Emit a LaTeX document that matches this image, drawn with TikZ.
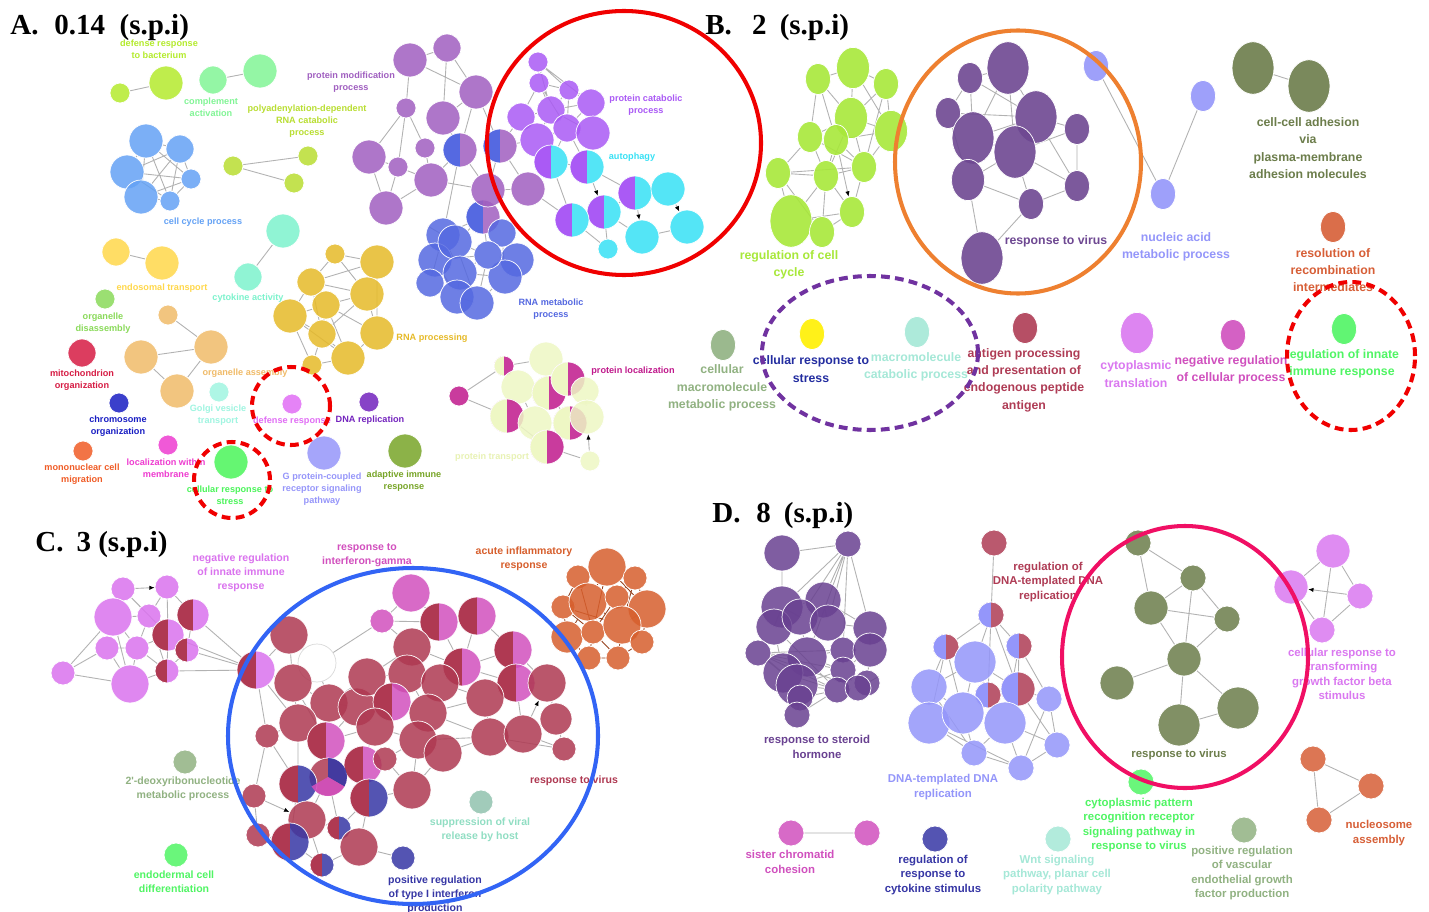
\documentclass[tikz,border=0pt]{standalone}
\usepackage{fontspec}
\setmainfont{Liberation Serif}
\newfontfamily\labfont{Liberation Sans}
\usepackage{xcolor}
\usetikzlibrary{shapes.geometric, arrows.meta, backgrounds}
% panel A
\definecolor{yellowGreen}{RGB}{180,235,45}
\definecolor{compGreen}{RGB}{130,245,150}
\definecolor{polyGreen}{RGB}{185,222,50}
\definecolor{ccBlue}{RGB}{100,162,245}
\definecolor{cytoTeal}{RGB}{125,243,205}
\definecolor{endoYellow}{RGB}{255,216,75}
\definecolor{orgGreen}{RGB}{138,218,90}
\definecolor{orgTan}{RGB}{240,187,105}
\definecolor{mitoRed}{RGB}{214,28,68}
\definecolor{chromBlue}{RGB}{25,30,195}
\definecolor{monoOrange}{RGB}{240,92,38}
\definecolor{locMagenta}{RGB}{238,60,208}
\definecolor{golgiTeal}{RGB}{160,245,225}
\definecolor{stressGreen}{RGB}{75,245,90}
\definecolor{defViolet}{RGB}{225,110,245}
\definecolor{dnaPurple}{RGB}{115,35,190}
\definecolor{gpcrBlue}{RGB}{150,150,250}
\definecolor{adaptGreen}{RGB}{120,165,40}
\definecolor{rnaGold}{RGB}{230,186,40}
\definecolor{rnaBlue}{RGB}{85,105,225}
\definecolor{pmPurple}{RGB}{160,95,192}
\definecolor{pcViolet}{RGB}{170,90,245}
\definecolor{autoCyan}{RGB}{55,225,245}
\definecolor{ptCream}{RGB}{238,247,196}
\definecolor{ptText}{RGB}{232,242,180}
\definecolor{plMagenta}{RGB}{192,25,140}
% panel B
\definecolor{cellGreen}{RGB}{168,232,58}
\definecolor{virPurple}{RGB}{110,72,146}
\definecolor{naBlue}{RGB}{148,150,250}
\definecolor{adhOlive}{RGB}{108,125,75}
\definecolor{resOrange}{RGB}{215,95,55}
\definecolor{cmSage}{RGB}{145,178,130}
\definecolor{csYellow}{RGB}{255,240,0}
\definecolor{csNavy}{RGB}{35,45,160}
\definecolor{mcTeal}{RGB}{165,232,215}
\definecolor{apRed}{RGB}{175,60,85}
\definecolor{ctViolet}{RGB}{218,120,240}
\definecolor{nrMagenta}{RGB}{208,80,190}
\definecolor{riGreen}{RGB}{80,245,100}
% panel C and D
\definecolor{nrViolet}{RGB}{218,115,238}
\definecolor{rvRed}{RGB}{175,57,82}
\definecolor{igMagenta}{RGB}{210,80,190}
\definecolor{tiBlue}{RGB}{55,55,165}
\definecolor{aiOrange}{RGB}{215,95,45}
\definecolor{svTeal}{RGB}{145,195,175}
\definecolor{svText}{RGB}{145,222,195}
\definecolor{shPurple}{RGB}{105,65,145}
% rings
\definecolor{ringRed}{RGB}{240,0,0}
\definecolor{ringOrange}{RGB}{238,128,48}
\definecolor{ringPurple}{RGB}{112,50,160}
\definecolor{ringBlue}{RGB}{50,100,245}
\definecolor{ringPink}{RGB}{240,15,100}

\begin{document}
\begin{tikzpicture}[
    x=0.02cm, y=-0.02cm,
    go/.style 2 args={
        circle,
        inner sep=0pt,
        minimum size=#2*0.04cm,
        fill=#1,
        fill opacity=0.85,
        draw=white,
        line width=0.4pt
    },
    gb/.style 2 args={
        ellipse,
        inner sep=0pt,
        minimum width=#2*0.04cm,
        minimum height=#2*0.05cm,
        fill=#1,
        fill opacity=0.9,
        draw=white,
        line width=0.4pt
    },
    half/.style={
        path picture={\fill[#1, fill opacity=1] (path picture bounding box.north west) rectangle (path picture bounding box.south);}
    },
    link/.style={draw=gray!60, line width=0.5pt},
    tip/.style={draw=gray!60, line width=0.5pt, -{Latex[length=3pt, width=2.5pt, color=black]}},
    title/.style={font=\bfseries\fontsize{16.5}{19}\selectfont, anchor=base west, inner sep=0pt},
    labA/.style={font=\labfont\bfseries\fontsize{5.2}{6.8}\selectfont, align=center, inner sep=0pt, text=#1},
    labB/.style={font=\labfont\bfseries\fontsize{7}{9.9}\selectfont, align=center, inner sep=0pt, text=#1},
    labC/.style={font=\labfont\bfseries\fontsize{6}{7.9}\selectfont, align=center, inner sep=0pt, text=#1},
    labD/.style={font=\labfont\bfseries\fontsize{6.5}{8.3}\selectfont, align=center, inner sep=0pt, text=#1},
    sz/.style 2 args={minimum width=#1*0.02cm, minimum height=#2*0.02cm},
    ring/.style={ellipse, inner sep=0pt, draw=#1, line width=2.3pt},
    dring/.style={ellipse, inner sep=0pt, draw=#1, line width=2.3pt, dash pattern=on 5pt off 3pt}
]

\useasboundingbox (0,0) rectangle (1429,912);
\begin{scope}[on background layer]
\fill[white] (0,0) rectangle (1429,912);
\end{scope}

% ================= Panel A =================
\node[title] (tA) at (10,35) {A.\hspace{0.55em}0.14\hspace{0.5em}(s.p.i)};

\node[go={yellowGreen}{10}] (dr1) at (120,93) {};
\node[go={yellowGreen}{17}] (dr2) at (166,83) {};
\node[go={compGreen}{14}] (ca1) at (213,80) {};
\node[go={compGreen}{17}] (ca2) at (260,71) {};
\node[go={polyGreen}{10}] (pa1) at (233,166) {};
\node[go={polyGreen}{10}] (pa2) at (308,156) {};
\node[go={polyGreen}{10}] (pa3) at (294,183) {};

\node[go={ccBlue}{17}] (cc1) at (146,141) {};
\node[go={ccBlue}{14}] (cc2) at (180,149) {};
\node[go={ccBlue}{17}] (cc3) at (127,172) {};
\node[go={ccBlue}{10}] (cc4) at (191,179) {};
\node[go={ccBlue}{17}] (cc5) at (141,197) {};
\node[go={ccBlue}{10}] (cc6) at (170,201) {};

\node[go={cytoTeal}{17}] (ct1) at (283,231) {};
\node[go={cytoTeal}{14}] (ct2) at (248,277) {};
\node[go={endoYellow}{14}] (et1) at (116,252) {};
\node[go={endoYellow}{17}] (et2) at (162,263) {};
\node[go={orgGreen}{10}] (od1) at (105,299) {};
\node[go={orgTan}{10}] (oa1) at (168,315) {};
\node[go={orgTan}{17}] (oa2) at (211,347) {};
\node[go={orgTan}{17}] (oa3) at (141,357) {};
\node[go={orgTan}{17}] (oa4) at (177,391) {};
\node[go={mitoRed}{14}] (mo1) at (82,353) {};
\node[go={chromBlue}{10}] (ch1) at (119,403) {};
\node[go={monoOrange}{10}] (mm1) at (83,451) {};
\node[go={locMagenta}{10}] (lm1) at (168,445) {};
\node[go={golgiTeal}{10}] (gv1) at (219,392) {};
\node[go={stressGreen}{17}] (cs1) at (231,462) {};
\node[go={defViolet}{10}] (df1) at (292,404) {};
\node[go={dnaPurple}{10}] (dp1) at (369,402) {};
\node[go={gpcrBlue}{17}] (gp1) at (324,453) {};
\node[go={adaptGreen}{17}] (aim1) at (405,451) {};

% RNA processing
\node[go={rnaGold}{10}] (rp1) at (335,254) {};
\node[go={rnaGold}{17}] (rp2) at (377,262) {};
\node[go={rnaGold}{14}] (rp3) at (311,282) {};
\node[go={rnaGold}{17}] (rp4) at (367,294) {};
\node[go={rnaGold}{14}] (rp5) at (326,305) {};
\node[go={rnaGold}{17}] (rp6) at (290,316) {};
\node[go={rnaGold}{14}] (rp7) at (322,334) {};
\node[go={rnaGold}{17}] (rp8) at (377,333) {};
\node[go={rnaGold}{17}] (rp9) at (348,358) {};
\node[go={rnaGold}{10}] (rp10) at (312,365) {};

% RNA metabolic process
\node[go={rnaBlue}{17}] (rm1) at (443,235) {};
\node[go={pmPurple}{17}, half=rnaBlue] (rm2) at (483,217) {};
\node[go={rnaBlue}{14}] (rm3) at (502,233) {};
\node[go={rnaBlue}{17}] (rm4) at (435,260) {};
\node[go={rnaBlue}{17}] (rm5) at (455,242) {};
\node[go={rnaBlue}{17}] (rm6) at (517,260) {};
\node[go={rnaBlue}{17}] (rm7) at (460,273) {};
\node[go={rnaBlue}{14}] (rm8) at (430,283) {};
\node[go={rnaBlue}{17}] (rm9) at (505,277) {};
\node[go={rnaBlue}{17}] (rm10) at (457,297) {};
\node[go={rnaBlue}{17}] (rm11) at (477,303) {};
\node[go={rnaBlue}{14}] (rm12) at (488,255) {};

% protein modification process
\node[go={pmPurple}{17}] (pm1) at (410,60) {};
\node[go={pmPurple}{14}] (pm2) at (447,48) {};
\node[go={pmPurple}{10}] (pm3) at (406,108) {};
\node[go={pmPurple}{17}] (pm4) at (476,92) {};
\node[go={pmPurple}{17}] (pm5) at (443,118) {};
\node[go={pmPurple}{17}] (pm6) at (369,157) {};
\node[go={pmPurple}{10}] (pm7) at (425,148) {};
\node[go={pmPurple}{10}] (pm8) at (398,167) {};
\node[go={pmPurple}{17}] (pm9) at (431,180) {};
\node[go={pmPurple}{17}] (pm10) at (386,208) {};
\node[go={pmPurple}{17}, half=rnaBlue] (pm11) at (460,150) {};
\node[go={pmPurple}{17}, half=rnaBlue] (pm12) at (500,146) {};
\node[go={pmPurple}{17}] (pm13) at (488,190) {};
\node[go={pmPurple}{17}] (pm14) at (528,189) {};

% protein catabolic process / autophagy
\node[go={pcViolet}{10}] (pc1) at (538,62) {};
\node[go={pcViolet}{10}] (pc2) at (539,83) {};
\node[go={pcViolet}{10}] (pc3) at (569,90) {};
\node[go={pcViolet}{14}] (pc4) at (591,103) {};
\node[go={pcViolet}{14}] (pc5) at (521,117) {};
\node[go={pcViolet}{14}] (pc6) at (551,110) {};
\node[go={pcViolet}{14}] (pc7) at (567,128) {};
\node[go={pcViolet}{17}] (pc8) at (593,133) {};
\node[go={pcViolet}{17}] (pc9) at (537,140) {};
\node[go={autoCyan}{17}, half=pcViolet] (au1) at (551,162) {};
\node[go={autoCyan}{17}, half=pcViolet] (au2) at (587,167) {};
\node[go={autoCyan}{17}, half=pcViolet] (au3) at (635,193) {};
\node[go={autoCyan}{17}, half=pcViolet] (au4) at (604,212) {};
\node[go={autoCyan}{17}, half=pcViolet] (au5) at (572,220) {};
\node[go={autoCyan}{17}] (au6) at (668,189) {};
\node[go={autoCyan}{17}] (au7) at (642,237) {};
\node[go={autoCyan}{17}] (au8) at (687,227) {};
\node[go={autoCyan}{10}] (au9) at (608,249) {};

% protein localization / transport
\node[go={plMagenta}{10}, half=ptCream] (pl1) at (504,366) {};
\node[go={ptCream}{17}] (pl2) at (546,359) {};
\node[go={ptCream}{17}] (pl3) at (518,387) {};
\node[go={plMagenta}{17}, half=ptCream] (pl4) at (549,393) {};
\node[go={plMagenta}{17}, half=ptCream] (pl5) at (568,379) {};
\node[go={ptCream}{14}] (pl6) at (585,391) {};
\node[go={plMagenta}{17}, half=ptCream] (pl7) at (507,416) {};
\node[go={ptCream}{17}] (pl8) at (535,423) {};
\node[go={plMagenta}{17}, half=ptCream] (pl9) at (570,423) {};
\node[go={ptCream}{17}] (pl10) at (587,417) {};
\node[go={plMagenta}{17}, half=ptCream] (pl11) at (547,447) {};
\node[go={ptCream}{10}] (pl12) at (590,461) {};
\node[go={plMagenta}{10}] (pl13) at (459,396) {};

% Panel A edges
\begin{scope}[on background layer]
\draw[link] (dr1) -- (dr2) (ca1) -- (ca2) (pa1) -- (pa2) (pa1) -- (pa3)
    (ct1) -- (ct2) (et1) -- (et2)
    (oa1) -- (oa2) (oa2) -- (oa3) (oa3) -- (oa4) (oa2) -- (oa4);
\draw[link] (cc1) -- (cc2) (cc1) -- (cc3) (cc1) -- (cc4) (cc1) -- (cc6) (cc2) -- (cc3)
    (cc2) -- (cc4) (cc2) -- (cc5) (cc3) -- (cc4) (cc3) -- (cc6) (cc4) -- (cc6)
    (cc5) -- (cc6) (cc1) -- (cc5) (cc2) -- (cc6) (cc4) -- (cc5);
\draw[link] (rp1) -- (rp2) (rp1) -- (rp3) (rp1) -- (rp4) (rp2) -- (rp3) (rp2) -- (rp4)
    (rp3) -- (rp5) (rp3) -- (rp4) (rp3) -- (rp6) (rp4) -- (rp5) (rp4) -- (rp8)
    (rp5) -- (rp6) (rp5) -- (rp7) (rp5) -- (rp8) (rp6) -- (rp7) (rp6) -- (rp9)
    (rp7) -- (rp9) (rp7) -- (rp10) (rp8) -- (rp9) (rp6) -- (rp10) (rp4) -- (rp7)
    (rp2) -- (rp8) (rp5) -- (rp9) (rp3) -- (rp7) (rp10) -- (rp9);
\draw[link] (rm1) -- (rm2) (rm1) -- (rm4) (rm1) -- (rm5) (rm1) -- (rm7) (rm1) -- (rm8)
    (rm2) -- (rm3) (rm2) -- (rm5) (rm2) -- (rm12) (rm3) -- (rm6) (rm3) -- (rm12)
    (rm3) -- (rm9) (rm4) -- (rm5) (rm4) -- (rm7) (rm4) -- (rm8) (rm4) -- (rm10)
    (rm5) -- (rm7) (rm5) -- (rm12) (rm6) -- (rm9) (rm6) -- (rm12) (rm7) -- (rm10)
    (rm7) -- (rm11) (rm7) -- (rm12) (rm7) -- (rm9) (rm8) -- (rm10) (rm9) -- (rm11)
    (rm9) -- (rm12) (rm10) -- (rm11) (rm11) -- (rm12) (rm5) -- (rm11) (rm4) -- (rm12)
    (rm2) -- (pm13) (rm1) -- (pm11);
\draw[link] (pm1) -- (pm2) (pm1) -- (pm3) (pm2) -- (pm4) (pm1) -- (pm4) (pm3) -- (pm6)
    (pm3) -- (pm7) (pm3) -- (pm8) (pm6) -- (pm8) (pm8) -- (pm9) (pm7) -- (pm9)
    (pm6) -- (pm10) (pm8) -- (pm10) (pm10) -- (pm9) (pm5) -- (pm11) (pm4) -- (pm12)
    (pm4) -- (pm11) (pm9) -- (pm13) (pm13) -- (pm14) (pm11) -- (pm13) (pm12) -- (pm13)
    (pm12) -- (pm14) (pm5) -- (pm4) (pm9) -- (pm11) (pm2) -- (pm5) (pm12) -- (pc9)
    (pm14) -- (au5) (pm12) -- (pc5);
\draw[link] (pc1) -- (pc2) (pc1) -- (pc3) (pc1) -- (pc6) (pc1) -- (pc4) (pc2) -- (pc3)
    (pc2) -- (pc5) (pc2) -- (pc6) (pc2) -- (pc7) (pc3) -- (pc4) (pc3) -- (pc6)
    (pc3) -- (pc7) (pc4) -- (pc6) (pc4) -- (pc7) (pc4) -- (pc8) (pc5) -- (pc6)
    (pc5) -- (pc9) (pc6) -- (pc7) (pc6) -- (pc9) (pc7) -- (pc8) (pc7) -- (pc9)
    (pc6) -- (pc8) (pc9) -- (au1) (pc7) -- (au1) (pc8) -- (au2) (pc7) -- (au2)
    (au1) -- (au2) (au1) -- (au5) (au2) -- (au3) (au3) -- (au6) (au4) -- (au5)
    (au4) -- (au7) (au4) -- (au9) (au7) -- (au8) (au4) -- (au3) (au5) -- (au9);
\draw[tip] (au2) -- (au4);
\draw[tip] (au3) -- (au7);
\draw[tip] (au6) -- (au8);
\draw[link] (pl13) -- (pl1) (pl13) -- (pl7) (pl1) -- (pl2) (pl1) -- (pl3) (pl2) -- (pl4)
    (pl3) -- (pl4) (pl4) -- (pl5) (pl4) -- (pl6) (pl5) -- (pl6) (pl3) -- (pl7)
    (pl3) -- (pl8) (pl4) -- (pl8) (pl4) -- (pl9) (pl6) -- (pl10) (pl8) -- (pl11)
    (pl9) -- (pl10) (pl9) -- (pl11) (pl11) -- (pl12) (pl7) -- (pl11) (pl8) -- (pl9)
    (pl2) -- (pl5);
\draw[tip] (pl12) -- (pl10);
\end{scope}

% Panel A labels
\node[labA=yellowGreen] (lDr) at (159,49) {defense response\\to bacterium};
\node[labA=compGreen] (lCa) at (211,107) {complement\\activation};
\node[labA=polyGreen] (lPa) at (307,121) {polyadenylation-dependent\\RNA catabolic\\process};
\node[labA=pmPurple] (lPm) at (351,82) {protein modification\\process};
\node[labA=pcViolet] (lPc) at (646,105) {protein catabolic\\process};
\node[labA=autoCyan] (lAu) at (632,157) {autophagy};
\node[labA=ccBlue] (lCc) at (203,222) {cell cycle process};
\node[labA=endoYellow] (lEt) at (162,288) {endosomal transport};
\node[labA=cytoTeal] (lCt) at (248,298) {cytokine activity};
\node[labA=orgGreen] (lOd) at (103,323) {organelle\\disassembly};
\node[labA=rnaGold] (lRp) at (432,338) {RNA processing};
\node[labA=rnaBlue] (lRm) at (551,309) {RNA metabolic\\process};
\node[labA=orgTan] (lOa) at (245,373) {organelle assembly};
\node[labA=mitoRed] (lMo) at (82,380) {mitochondrion\\organization};
\node[labA=plMagenta] (lPl) at (633,371) {protein localization};
\node[labA=golgiTeal] (lGv) at (218,415) {Golgi vesicle\\transport};
\node[labA=defViolet] (lDf) at (292,421) {defense response};
\node[labA=dnaPurple] (lDp) at (370,420) {DNA replication};
\node[labA=chromBlue] (lCh) at (118,426) {chromosome\\organization};
\node[labA=locMagenta] (lLm) at (166,468) {localization within\\membrane};
\node[labA=monoOrange] (lMm) at (82,474) {mononuclear cell\\migration};
\node[labA=ptText] (lPt) at (492,457) {protein transport};
\node[labA=gpcrBlue] (lGp) at (322,489) {G protein-coupled\\receptor signaling\\pathway};
\node[labA=adaptGreen] (lAim) at (404,481) {adaptive immune\\response};
\node[labA=stressGreen] (lCs) at (230,495) {cellular response to\\stress};

% ================= Panel B =================
\node[title] (tB) at (705,35) {B.\hspace{0.7em}2\hspace{0.45em}(s.p.i)};

\node[gb={cellGreen}{12.5}] (gc1) at (818,79) {};
\node[gb={cellGreen}{16.5}] (gc2) at (853,68) {};
\node[gb={cellGreen}{12.5}] (gc3) at (886,84) {};
\node[gb={cellGreen}{16.5}] (gc4) at (851,118) {};
\node[gb={cellGreen}{16.5}] (gc5) at (891,131) {};
\node[gb={cellGreen}{12.5}] (gc6) at (810,137) {};
\node[gb={cellGreen}{12.5}] (gc7) at (836,140) {};
\node[gb={cellGreen}{12.5}] (gc8) at (778,173) {};
\node[gb={cellGreen}{12.5}] (gc9) at (826,176) {};
\node[gb={cellGreen}{12.5}] (gc10) at (864,167) {};
\node[gb={cellGreen}{12.5}] (gc11) at (852,212) {};
\node[gb={cellGreen}{21}] (gc12) at (791,221) {};
\node[gb={cellGreen}{12.5}] (gc13) at (822,232) {};

\node[gb={virPurple}{12.5}] (vp1) at (970,78) {};
\node[gb={virPurple}{21}] (vp2) at (1008,68) {};
\node[gb={virPurple}{12.5}] (vp3) at (948,113) {};
\node[gb={virPurple}{21}] (vp4) at (1036,117) {};
\node[gb={virPurple}{21}] (vp5) at (973,138) {};
\node[gb={virPurple}{21}] (vp6) at (1015,152) {};
\node[gb={virPurple}{16.5}] (vp7) at (968,180) {};
\node[gb={virPurple}{12.5}] (vp8) at (1031,204) {};
\node[gb={virPurple}{21}] (vp9) at (982,258) {};
\node[gb={virPurple}{12.5}] (vp10) at (1077,129) {};
\node[gb={virPurple}{12.5}] (vp11) at (1077,186) {};

\node[gb={naBlue}{12.5}] (na1) at (1096,66) {};
\node[gb={naBlue}{12.5}] (na2) at (1203,96) {};
\node[gb={naBlue}{12.5}] (na3) at (1163,194) {};
\node[gb={adhOlive}{21}] (cca1) at (1253,68) {};
\node[gb={adhOlive}{21}] (cca2) at (1309,86) {};
\node[gb={resOrange}{12.5}] (rr1) at (1333,227) {};

\node[gb={cmSage}{12.5}] (cm1) at (723,345) {};
\node[gb={csYellow}{12.5}] (cy1) at (812,334) {};
\node[gb={mcTeal}{12.5}] (mc1) at (917,332) {};
\node[gb={apRed}{12.5}] (ap1) at (1025,328) {};
\node[gb={ctViolet}{16.5}] (tr1) at (1137,333) {};
\node[gb={nrMagenta}{12.5}] (ng1) at (1233,335) {};
\node[gb={riGreen}{12.5}] (ri1) at (1344,329) {};

% Panel B edges
\begin{scope}[on background layer]
\draw[link] (gc1) -- (gc2) (gc1) -- (gc4) (gc1) -- (gc6) (gc1) -- (gc7) (gc2) -- (gc3)
    (gc2) -- (gc4) (gc2) -- (gc5) (gc3) -- (gc4) (gc3) -- (gc5) (gc3) -- (gc10)
    (gc4) -- (gc5) (gc4) -- (gc6) (gc4) -- (gc7) (gc4) -- (gc10) (gc4) -- (gc9)
    (gc5) -- (gc10) (gc5) -- (gc7) (gc6) -- (gc7) (gc6) -- (gc8) (gc6) -- (gc9)
    (gc7) -- (gc9) (gc7) -- (gc10) (gc8) -- (gc9) (gc8) -- (gc12) (gc8) -- (gc10)
    (gc9) -- (gc10) (gc9) -- (gc12) (gc9) -- (gc13) (gc9) -- (gc11) (gc10) -- (gc11)
    (gc11) -- (gc13) (gc12) -- (gc13) (gc11) -- (gc12) (gc8) -- (gc13) (gc6) -- (gc10);
\draw[tip] (gc7) -- (gc11);
\draw[link] (vp1) -- (vp2) (vp1) -- (vp3) (vp1) -- (vp5) (vp1) -- (vp4) (vp2) -- (vp4)
    (vp2) -- (vp5) (vp2) -- (vp6) (vp3) -- (vp5) (vp3) -- (vp4) (vp3) -- (vp7)
    (vp4) -- (vp6) (vp4) -- (vp10) (vp4) -- (vp5) (vp5) -- (vp6) (vp5) -- (vp7)
    (vp6) -- (vp7) (vp6) -- (vp8) (vp6) -- (vp11) (vp6) -- (vp10) (vp7) -- (vp8)
    (vp7) -- (vp9) (vp8) -- (vp9) (vp8) -- (vp11) (vp10) -- (vp11) (vp4) -- (vp11);
\draw[link] (na1) -- (na3) (na2) -- (na3) (cca1) -- (cca2);
\end{scope}

% Panel B labels
\node[labB=cellGreen] (lGc) at (789,265) {regulation of cell\\cycle};
\node[labB=virPurple] (lVp) at (1056,241) {response to virus};
\node[labB=naBlue] (lNa) at (1176,247) {nucleic acid\\metabolic process};
\node[labB=adhOlive] (lCca) at (1308,148) {cell-cell adhesion\\via\\plasma-membrane\\adhesion molecules};
\node[labB=resOrange] (lRr) at (1333,270) {resolution of\\recombination\\intermediates};
\node[labB=cmSage] (lCm) at (722,388) {cellular\\macromolecule\\metabolic process};
\node[labB=csNavy] (lCy) at (811,369) {cellular response to\\stress};
\node[labB=mcTeal] (lMc) at (916,367) {macromolecule\\catabolic process};
\node[labB=apRed] (lAp) at (1024,380) {antigen processing\\and presentation of\\endogenous peptide\\antigen};
\node[labB=ctViolet] (lTr) at (1136,374) {cytoplasmic\\translation};
\node[labB=nrMagenta] (lNg) at (1231,370) {negative regulation\\of cellular process};
\node[labB=riGreen] (lRi) at (1342,364) {regulation of innate\\immune response};

% ================= Panel C =================
\node[title] (tC) at (35,551) {C.\hspace{0.45em}3 (s.p.i)};

\node[go={nrViolet}{12}] (nv1) at (123,589) {};
\node[go={nrViolet}{12}] (nv2) at (167,587) {};
\node[go={nrViolet}{19}] (nv3) at (113,617) {};
\node[go={nrViolet}{12}] (nv4) at (149,616) {};
\node[go={nrViolet}{16}, half=rvRed] (nv5) at (193,615) {};
\node[go={nrViolet}{16}, half=rvRed] (nv6) at (168,635) {};
\node[go={nrViolet}{12}] (nv7) at (107,648) {};
\node[go={nrViolet}{12}] (nv8) at (137,648) {};
\node[go={nrViolet}{12}, half=rvRed] (nv9) at (187,650) {};
\node[go={nrViolet}{12}] (nv10) at (63,673) {};
\node[go={nrViolet}{19}] (nv11) at (130,684) {};
\node[go={nrViolet}{12}, half=rvRed] (nv12) at (167,671) {};

% response to virus cluster
\node[go={rvRed}{19}] (rv1) at (289,635) {};
\node[circle, inner sep=0pt, minimum size=19*0.04cm, draw=gray!30, fill=white] (rv2) at (317,663) {};
\node[go={nrViolet}{19}, half=rvRed] (rv3) at (256,670) {};
\node[go={rvRed}{19}] (rv4) at (293,683) {};
\node[go={rvRed}{19}] (rv5) at (329,703) {};
\node[go={rvRed}{19}] (rv6) at (298,723) {};
\node[go={rvRed}{12}] (rv7) at (267,736) {};
\node[go={igMagenta}{19}, half=rvRed] (rv8) at (326,741) {};
\node[go={rvRed}{19}] (rv9) at (328,777) {};
\node[go={tiBlue}{19}, half=rvRed] (rv10) at (298,784) {};
\node[go={rvRed}{12}] (rv11) at (254,796) {};
\node[go={rvRed}{19}] (rv12) at (307,820) {};
\node[go={tiBlue}{12}, half=rvRed] (rv13) at (339,828) {};
\node[go={rvRed}{12}] (rv14) at (258,835) {};
\node[go={tiBlue}{19}, half=rvRed] (rv15) at (290,842) {};
\node[go={tiBlue}{12}, half=rvRed] (rv16) at (322,865) {};
\node[go={rvRed}{19}] (rv17) at (359,847) {};
\node[go={rvRed}{19}] (rv18) at (357,707) {};
\node[go={igMagenta}{19}] (rv19) at (411,593) {};
\node[go={igMagenta}{12}] (rv20) at (382,621) {};
\node[go={igMagenta}{19}, half=rvRed] (rv21) at (439,622) {};
\node[go={igMagenta}{19}, half=rvRed] (rv22) at (477,616) {};
\node[go={igMagenta}{19}, half=rvRed] (rv23) at (513,650) {};
\node[go={rvRed}{19}] (rv24) at (412,647) {};
\node[go={igMagenta}{19}, half=rvRed] (rv25) at (462,667) {};
\node[go={rvRed}{19}] (rv26) at (367,677) {};
\node[go={rvRed}{19}] (rv27) at (407,674) {};
\node[go={rvRed}{19}] (rv28) at (440,683) {};
\node[go={igMagenta}{19}, half=rvRed] (rv29) at (516,683) {};
\node[go={rvRed}{19}] (rv30) at (547,683) {};
\node[go={rvRed}{19}] (rv31) at (485,698) {};
\node[go={igMagenta}{19}, half=rvRed] (rv32) at (392,702) {};
\node[go={rvRed}{19}] (rv33) at (428,713) {};
\node[go={rvRed}{19}] (rv34) at (375,727) {};
\node[go={rvRed}{19}] (rv35) at (418,740) {};
\node[go={rvRed}{19}] (rv36) at (490,737) {};
\node[go={rvRed}{19}] (rv37) at (523,734) {};
\node[go={rvRed}{16}] (rv38) at (556,719) {};
\node[go={rvRed}{12}] (rv39) at (564,749) {};
\node[go={rvRed}{19}] (rv40) at (443,753) {};
\node[go={igMagenta}{19}, half=rvRed] (rv41) at (363,765) {};
\node[go={rvRed}{12}] (rv42) at (385,759) {};
\node[go={rvRed}{19}] (rv43) at (412,790) {};
\node[go={tiBlue}{19}, half=rvRed] (rv44) at (369,798) {};
\node[go={tiBlue}{12}] (rv45) at (403,858) {};
% three-way node
\fill[tiBlue, fill opacity=0.9] (rv9.center) -- ++(-90:19) arc[start angle=-90, end angle=30, radius=19] -- cycle;
\fill[igMagenta, fill opacity=0.9] (rv9.center) -- ++(30:19) arc[start angle=30, end angle=150, radius=19] -- cycle;

% acute inflammatory response
\node[go={aiOrange}{19}] (ai1) at (607,567) {};
\node[go={aiOrange}{12}] (ai2) at (578,577) {};
\node[go={aiOrange}{12}] (ai3) at (635,578) {};
\node[go={aiOrange}{12}] (ai4) at (563,607) {};
\node[go={aiOrange}{19}] (ai5) at (588,602) {};
\node[go={aiOrange}{12}] (ai6) at (617,597) {};
\node[go={aiOrange}{19}] (ai7) at (647,609) {};
\node[go={aiOrange}{16}] (ai8) at (567,637) {};
\node[go={aiOrange}{12}] (ai9) at (593,632) {};
\node[go={aiOrange}{19}] (ai10) at (622,625) {};
\node[go={aiOrange}{12}] (ai11) at (642,642) {};
\node[go={aiOrange}{12}] (ai12) at (589,658) {};
\node[go={aiOrange}{12}] (ai13) at (618,658) {};

\node[go={cmSage}{12}] (dx1) at (185,762) {};
\node[go={riGreen}{12}] (ed1) at (176,855) {};
\node[go={svTeal}{12}] (sv1) at (481,802) {};

% Panel C edges
\begin{scope}[on background layer]
\draw[link] (nv1) -- (nv3) (nv1) -- (nv4) (nv1) -- (nv6) (nv2) -- (nv4) (nv2) -- (nv5)
    (nv2) -- (nv6) (nv3) -- (nv4) (nv3) -- (nv7) (nv3) -- (nv8) (nv3) -- (nv11)
    (nv4) -- (nv6) (nv4) -- (nv8) (nv4) -- (nv12) (nv5) -- (nv6) (nv5) -- (nv9)
    (nv6) -- (nv8) (nv6) -- (nv9) (nv6) -- (nv12) (nv7) -- (nv8) (nv7) -- (nv10)
    (nv7) -- (nv11) (nv8) -- (nv11) (nv8) -- (nv12) (nv9) -- (nv12) (nv10) -- (nv11)
    (nv10) -- (nv3) (nv11) -- (nv12) (nv5) -- (rv3) (nv9) -- (rv3) (nv12) -- (rv3)
    (nv6) -- (rv3);
\draw[tip] (nv1) -- (nv2);
\draw[link] (rv1) -- (rv2) (rv1) -- (rv3) (rv1) -- (rv4) (rv2) -- (rv4) (rv2) -- (rv5)
    (rv2) -- (rv20) (rv3) -- (rv4) (rv3) -- (rv6) (rv3) -- (rv7) (rv4) -- (rv5)
    (rv4) -- (rv6) (rv4) -- (rv8) (rv5) -- (rv6) (rv5) -- (rv8) (rv5) -- (rv18)
    (rv5) -- (rv26) (rv6) -- (rv7) (rv6) -- (rv8) (rv6) -- (rv10) (rv7) -- (rv11)
    (rv7) -- (rv10) (rv8) -- (rv9) (rv8) -- (rv18) (rv8) -- (rv34) (rv9) -- (rv10)
    (rv9) -- (rv41) (rv9) -- (rv12) (rv9) -- (rv13) (rv10) -- (rv12) (rv10) -- (rv15)
    (rv11) -- (rv14) (rv12) -- (rv13) (rv12) -- (rv15) (rv12) -- (rv16) (rv13) -- (rv17)
    (rv13) -- (rv44) (rv14) -- (rv15) (rv15) -- (rv16) (rv16) -- (rv17) (rv17) -- (rv44)
    (rv17) -- (rv45) (rv44) -- (rv43) (rv44) -- (rv41) (rv41) -- (rv42) (rv41) -- (rv34)
    (rv42) -- (rv35) (rv42) -- (rv43) (rv43) -- (rv35) (rv43) -- (rv40) (rv18) -- (rv26)
    (rv18) -- (rv34) (rv18) -- (rv32) (rv19) -- (rv20) (rv19) -- (rv21) (rv20) -- (rv21)
    (rv20) -- (rv24) (rv21) -- (rv22) (rv21) -- (rv24) (rv21) -- (rv25) (rv22) -- (rv23)
    (rv22) -- (rv25) (rv23) -- (rv25) (rv23) -- (rv29) (rv23) -- (rv30) (rv24) -- (rv26)
    (rv24) -- (rv27) (rv24) -- (rv25) (rv25) -- (rv28) (rv25) -- (rv29) (rv26) -- (rv27)
    (rv26) -- (rv32) (rv27) -- (rv28) (rv27) -- (rv32) (rv27) -- (rv33) (rv28) -- (rv31)
    (rv28) -- (rv33) (rv29) -- (rv30) (rv29) -- (rv31) (rv29) -- (rv37) (rv30) -- (rv38)
    (rv31) -- (rv36) (rv31) -- (rv33) (rv32) -- (rv33) (rv32) -- (rv34) (rv33) -- (rv35)
    (rv33) -- (rv36) (rv34) -- (rv35) (rv35) -- (rv36) (rv35) -- (rv40) (rv36) -- (rv37)
    (rv36) -- (rv40) (rv37) -- (rv38) (rv37) -- (rv39) (rv38) -- (rv39) (rv36) -- (rv39);
\draw[tip] (rv11) -- (rv12);
\draw[tip] (rv37) -- (rv30);
\draw[link, draw=aiOrange!70!black] (ai1) -- (ai2) (ai1) -- (ai3) (ai1) -- (ai5) (ai1) -- (ai6)
    (ai1) -- (ai7) (ai2) -- (ai4) (ai2) -- (ai5) (ai3) -- (ai6) (ai3) -- (ai7)
    (ai4) -- (ai5) (ai4) -- (ai8) (ai4) -- (ai9) (ai5) -- (ai6) (ai5) -- (ai8)
    (ai5) -- (ai9) (ai5) -- (ai10) (ai6) -- (ai7) (ai6) -- (ai10) (ai7) -- (ai10)
    (ai7) -- (ai11) (ai8) -- (ai9) (ai8) -- (ai12) (ai9) -- (ai10) (ai9) -- (ai12)
    (ai9) -- (ai13) (ai10) -- (ai11) (ai10) -- (ai13) (ai11) -- (ai13) (ai12) -- (ai13)
    (ai2) -- (ai9) (ai6) -- (ai9) (ai4) -- (ai10) (ai3) -- (ai10) (ai1) -- (ai9);
\end{scope}

% Panel C labels
\node[labC=nrViolet] (lNv) at (241,573) {negative regulation\\of innate immune\\response};
\node[labC=igMagenta] (lIg) at (367,555) {response to\\interferon-gamma};
\node[labC=aiOrange] (lAi) at (524,559) {acute inflammatory\\response};
\node[labC=cmSage] (lDx) at (183,789) {2'-deoxyribonucleotide\\metabolic process};
\node[labC=rvRed] (lRv) at (574,781) {response to virus};
\node[labC=svText] (lSv) at (480,830) {suppression of viral\\release by host};
\node[labC=riGreen] (lEd) at (174,882) {endodermal cell\\differentiation};
\node[labC=tiBlue] (lTi) at (435,895) {positive regulation\\of type I interferon\\production};

% ================= Panel D =================
\node[title] (tD) at (712,522) {D.\hspace{0.55em}8\hspace{0.45em}(s.p.i)};

% response to steroid hormone
\node[go={shPurple}{18}] (sh1) at (782,553) {};
\node[go={shPurple}{13}] (sh2) at (848,544) {};
\node[go={shPurple}{21}] (sh3) at (782,607) {};
\node[go={shPurple}{18}] (sh4) at (823,600) {};
\node[go={shPurple}{18}] (sh5) at (774,627) {};
\node[go={shPurple}{18}] (sh6) at (800,617) {};
\node[go={shPurple}{18}] (sh7) at (828,623) {};
\node[go={shPurple}{17}] (sh8) at (870,628) {};
\node[go={shPurple}{13}] (sh9) at (758,653) {};
\node[go={shPurple}{20}] (sh10) at (807,657) {};
\node[go={shPurple}{13}] (sh11) at (843,650) {};
\node[go={shPurple}{17}] (sh12) at (870,650) {};
\node[go={shPurple}{20}] (sh13) at (783,673) {};
\node[go={shPurple}{21}] (sh14) at (797,685) {};
\node[go={shPurple}{13}] (sh15) at (843,670) {};
\node[go={shPurple}{13}] (sh16) at (837,690) {};
\node[go={shPurple}{13}] (sh17) at (867,683) {};
\node[go={shPurple}{13}] (sh18) at (858,688) {};
\node[go={shPurple}{13}] (sh19) at (800,698) {};
\node[go={shPurple}{13}] (sh20) at (797,715) {};

% DNA-templated DNA replication
\node[go={apRed}{13}] (dt1) at (994,543) {};
\node[go={apRed}{13}, half=naBlue] (dt2) at (991,615) {};
\node[go={apRed}{13}, half=naBlue] (dt3) at (946,647) {};
\node[go={apRed}{13}, half=naBlue] (dt4) at (1019,646) {};
\node[go={naBlue}{21}] (dt5) at (975,662) {};
\node[go={naBlue}{18}] (dt6) at (929,687) {};
\node[go={apRed}{13}, half=naBlue] (dt7) at (988,695) {};
\node[go={apRed}{17}, half=naBlue] (dt8) at (1018,689) {};
\node[go={naBlue}{13}] (dt9) at (1049,699) {};
\node[go={naBlue}{21}] (dt10) at (929,723) {};
\node[go={naBlue}{21}] (dt11) at (963,713) {};
\node[go={naBlue}{21}] (dt12) at (1005,723) {};
\node[go={naBlue}{13}] (dt13) at (974,753) {};
\node[go={naBlue}{13}] (dt14) at (1021,768) {};
\node[go={naBlue}{13}] (dt15) at (1057,745) {};

% response to virus
\node[go={adhOlive}{13}] (vo1) at (1138,543) {};
\node[go={adhOlive}{13}] (vo2) at (1193,578) {};
\node[go={adhOlive}{17}] (vo3) at (1151,608) {};
\node[go={adhOlive}{13}] (vo4) at (1227,619) {};
\node[go={adhOlive}{17}] (vo5) at (1184,659) {};
\node[go={adhOlive}{17}] (vo6) at (1117,683) {};
\node[go={adhOlive}{21}] (vo7) at (1238,708) {};
\node[go={adhOlive}{21}] (vo8) at (1179,725) {};

\node[go={ctViolet}{17}] (tg1) at (1333,551) {};
\node[go={ctViolet}{17}] (tg2) at (1291,587) {};
\node[go={ctViolet}{13}] (tg3) at (1360,596) {};
\node[go={ctViolet}{13}] (tg4) at (1322,630) {};
\node[go={resOrange}{13}] (nu1) at (1313,759) {};
\node[go={resOrange}{13}] (nu2) at (1371,786) {};
\node[go={resOrange}{13}] (nu3) at (1319,820) {};
\node[go={riGreen}{13}] (cp1) at (1141,782) {};
\node[go={cmSage}{13}] (vg1) at (1244,830) {};
\node[go={mcTeal}{13}] (wn1) at (1058,839) {};
\node[go={tiBlue}{13}] (rc1) at (935,839) {};
\node[go={nrMagenta}{13}] (sc1) at (791,833) {};
\node[go={nrMagenta}{13}] (sc2) at (867,833) {};

% Panel D edges
\begin{scope}[on background layer]
\draw[link] (sh1) -- (sh2) (sh1) -- (sh3) (sh2) -- (sh3) (sh2) -- (sh4) (sh2) -- (sh6)
    (sh2) -- (sh7) (sh2) -- (sh8) (sh2) -- (sh10) (sh2) -- (sh11) (sh3) -- (sh4)
    (sh3) -- (sh5) (sh3) -- (sh6) (sh4) -- (sh6) (sh4) -- (sh7) (sh4) -- (sh8)
    (sh5) -- (sh6) (sh5) -- (sh9) (sh5) -- (sh13) (sh6) -- (sh7) (sh6) -- (sh10)
    (sh7) -- (sh8) (sh7) -- (sh11) (sh8) -- (sh12) (sh9) -- (sh10) (sh9) -- (sh13)
    (sh9) -- (sh14) (sh9) -- (sh15) (sh9) -- (sh16) (sh9) -- (sh11) (sh10) -- (sh11)
    (sh10) -- (sh13) (sh10) -- (sh14) (sh11) -- (sh12) (sh11) -- (sh15) (sh12) -- (sh15)
    (sh12) -- (sh17) (sh13) -- (sh14) (sh13) -- (sh19) (sh14) -- (sh15) (sh14) -- (sh16)
    (sh14) -- (sh19) (sh15) -- (sh16) (sh15) -- (sh18) (sh16) -- (sh18) (sh16) -- (sh19)
    (sh17) -- (sh18) (sh19) -- (sh20) (sh14) -- (sh20) (sh16) -- (sh20) (sh10) -- (sh15)
    (sh13) -- (sh16) (sh9) -- (sh18) (sh5) -- (sh16);
\draw[link] (dt1) -- (dt2) (dt2) -- (dt3) (dt2) -- (dt4) (dt2) -- (dt5) (dt2) -- (dt8)
    (dt2) -- (dt7) (dt3) -- (dt5) (dt3) -- (dt6) (dt3) -- (dt10) (dt4) -- (dt8)
    (dt4) -- (dt9) (dt4) -- (dt12) (dt5) -- (dt6) (dt5) -- (dt7) (dt5) -- (dt11)
    (dt5) -- (dt8) (dt6) -- (dt10) (dt6) -- (dt11) (dt6) -- (dt13) (dt7) -- (dt11)
    (dt7) -- (dt12) (dt7) -- (dt8) (dt8) -- (dt9) (dt8) -- (dt12) (dt8) -- (dt15)
    (dt9) -- (dt15) (dt9) -- (dt14) (dt10) -- (dt11) (dt10) -- (dt13) (dt11) -- (dt12)
    (dt11) -- (dt13) (dt12) -- (dt13) (dt12) -- (dt14) (dt12) -- (dt15) (dt13) -- (dt14)
    (dt14) -- (dt15) (dt3) -- (dt11) (dt10) -- (dt14);
\draw[link] (vo1) -- (vo2) (vo1) -- (vo3) (vo2) -- (vo3) (vo2) -- (vo5) (vo2) -- (vo4)
    (vo3) -- (vo4) (vo3) -- (vo5) (vo4) -- (vo5) (vo5) -- (vo6) (vo5) -- (vo8)
    (vo5) -- (vo7) (vo8) -- (vo7);
\draw[link] (tg1) -- (tg2) (tg1) -- (tg3) (tg1) -- (tg4) (tg2) -- (tg4) (tg3) -- (tg4)
    (nu1) -- (nu2) (nu1) -- (nu3) (nu2) -- (nu3) (sc1) -- (sc2);
\draw[tip] (tg3) -- (tg2);
\end{scope}

% Panel D labels
\node[labD=shPurple] (lSh) at (817,747) {response to steroid\\hormone};
\node[labD=apRed] (lRd) at (1048,582) {regulation of\\DNA-templated DNA\\replication};
\node[labD=naBlue] (lDt) at (943,787) {DNA-templated DNA\\replication};
\node[labD=adhOlive] (lVo) at (1179,755) {response to virus};
\node[labD=ctViolet] (lTg) at (1342,674) {cellular response to\\transforming\\growth factor beta\\stimulus};
\node[labD=riGreen] (lCp) at (1139,825) {cytoplasmic pattern\\recognition receptor\\signaling pathway in\\response to virus};
\node[labD=resOrange] (lNu) at (1379,833) {nucleosome\\assembly};
\node[labD=nrMagenta] (lSc) at (790,862) {sister chromatid\\cohesion};
\node[labD=tiBlue] (lRc) at (933,875) {regulation of\\response to\\cytokine stimulus};
\node[labD=mcTeal] (lWn) at (1057,875) {Wnt signaling\\pathway, planar cell\\polarity pathway};
\node[labD=cmSage] (lVg) at (1242,873) {positive regulation\\of vascular\\endothelial growth\\factor production};

% Highlight rings
\node[ring=ringRed, sz={274}{264}] (ringA) at (624,143) {};
\node[dring=ringRed, sz={78}{78}] (ringDf) at (291,406) {};
\node[dring=ringRed, sz={76}{76}] (ringCs) at (232,480) {};
\node[ring=ringOrange, sz={246}{263}] (ringB) at (1018,162) {};
\node[dring=ringPurple, sz={216}{154}] (ringCat) at (870,353) {};
\node[dring=ringRed, sz={128}{148}] (ringRi) at (1351,356) {};
\node[ring=ringBlue, sz={370}{336}] (ringC) at (413,736) {};
\node[ring=ringPink, sz={246}{262}] (ringD) at (1185,657) {};

\end{tikzpicture}
\end{document}
